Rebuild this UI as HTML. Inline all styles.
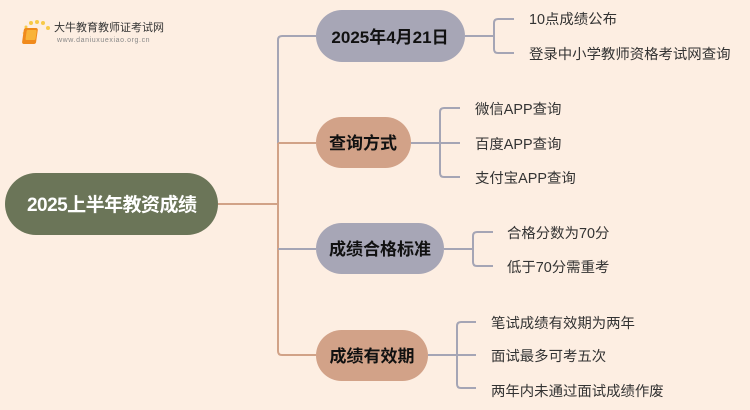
<!DOCTYPE html>
<html><head><meta charset="utf-8"><style>
html,body{margin:0;padding:0;background:#fdeee2;}
svg{display:block}
text{font-family:"Liberation Sans","Noto Sans CJK SC",sans-serif;}
</style></head><body>
<svg width="750" height="410" xmlns="http://www.w3.org/2000/svg">
<rect width="750" height="410" fill="#fdeee2"/>
<g>
<circle cx="31" cy="23" r="2" fill="#f7c948"/><circle cx="37" cy="22" r="2" fill="#f7c948"/><circle cx="43" cy="23" r="2" fill="#f7c948"/><circle cx="26" cy="27" r="1.5" fill="#f7c948"/><circle cx="48" cy="28" r="2" fill="#f7c948"/><circle cx="24" cy="33" r="1.3" fill="#f7d27a"/>
<rect x="28" y="28" width="14" height="16" rx="2" fill="#f08a1c" transform="skewX(-8)"/>
<rect x="31" y="30" width="10" height="10" rx="1" fill="#f9b338" transform="skewX(-8)"/>
<text x="54" y="31" font-size="11" fill="#333">大牛教育教师证考试网</text>
<text x="57" y="42" font-size="7" fill="#888" letter-spacing="0.6">www.daniuxuexiao.org.cn</text>
</g>
<g fill="none" stroke-width="2">
<path d="M316 36 H282 Q278 36 278 40 V143" stroke="#a5a5b5"/>
<path d="M218 204 H278" stroke="#d1a287"/>
<path d="M278 143 V351 Q278 355 282 355 H316" stroke="#d1a287"/>
<path d="M278 143 H316" stroke="#d1a287"/>
<path d="M278 249 H316" stroke="#a5a5b5"/>
<g stroke="#a5a5b5">
<path d="M465 36 H494"/><path d="M514 19 H498 Q494 19 494 23 V49 Q494 53 498 53 H514"/>
<path d="M411 143 H440"/><path d="M460 108 H444 Q440 108 440 112 V173 Q440 177 444 177 H460"/><path d="M440 143 H460"/>
<path d="M444 249 H473"/><path d="M493 232 H477 Q473 232 473 236 V262 Q473 266 477 266 H493"/>
<path d="M428 355 H457"/><path d="M476 322 H461 Q457 322 457 326 V384 Q457 388 461 388 H476"/><path d="M457 355 H476"/>
</g>
</g>
<rect x="5" y="173" width="213" height="62" rx="31" fill="#6b7558"/>
<text x="112" y="211" font-size="19" font-weight="bold" fill="#fff" text-anchor="middle" textLength="170">2025上半年教资成绩</text>
<rect x="316" y="10" width="149" height="52" rx="26" fill="#a7a6b6"/>
<text x="390" y="43" font-size="17" font-weight="bold" fill="#111" text-anchor="middle">2025年4月21日</text>
<rect x="316" y="117" width="95" height="51" rx="25.5" fill="#d2a288"/>
<text x="363" y="149" font-size="17" font-weight="bold" fill="#111" text-anchor="middle">查询方式</text>
<rect x="316" y="223" width="128" height="51" rx="25.5" fill="#a7a6b6"/>
<text x="380" y="255" font-size="17" font-weight="bold" fill="#111" text-anchor="middle">成绩合格标准</text>
<rect x="316" y="330" width="112" height="51" rx="25.5" fill="#d2a288"/>
<text x="372" y="362" font-size="17" font-weight="bold" fill="#111" text-anchor="middle">成绩有效期</text>
<g font-size="14.4" fill="#333">
<text x="529" y="24">10点成绩公布</text>
<text x="529" y="59">登录中小学教师资格考试网查询</text>
<text x="475" y="114">微信APP查询</text>
<text x="475" y="149">百度APP查询</text>
<text x="475" y="183">支付宝APP查询</text>
<text x="507" y="238">合格分数为70分</text>
<text x="507" y="272">低于70分需重考</text>
<text x="491" y="328">笔试成绩有效期为两年</text>
<text x="491" y="361">面试最多可考五次</text>
<text x="491" y="396">两年内未通过面试成绩作废</text>
</g>
</svg>
</body></html>
